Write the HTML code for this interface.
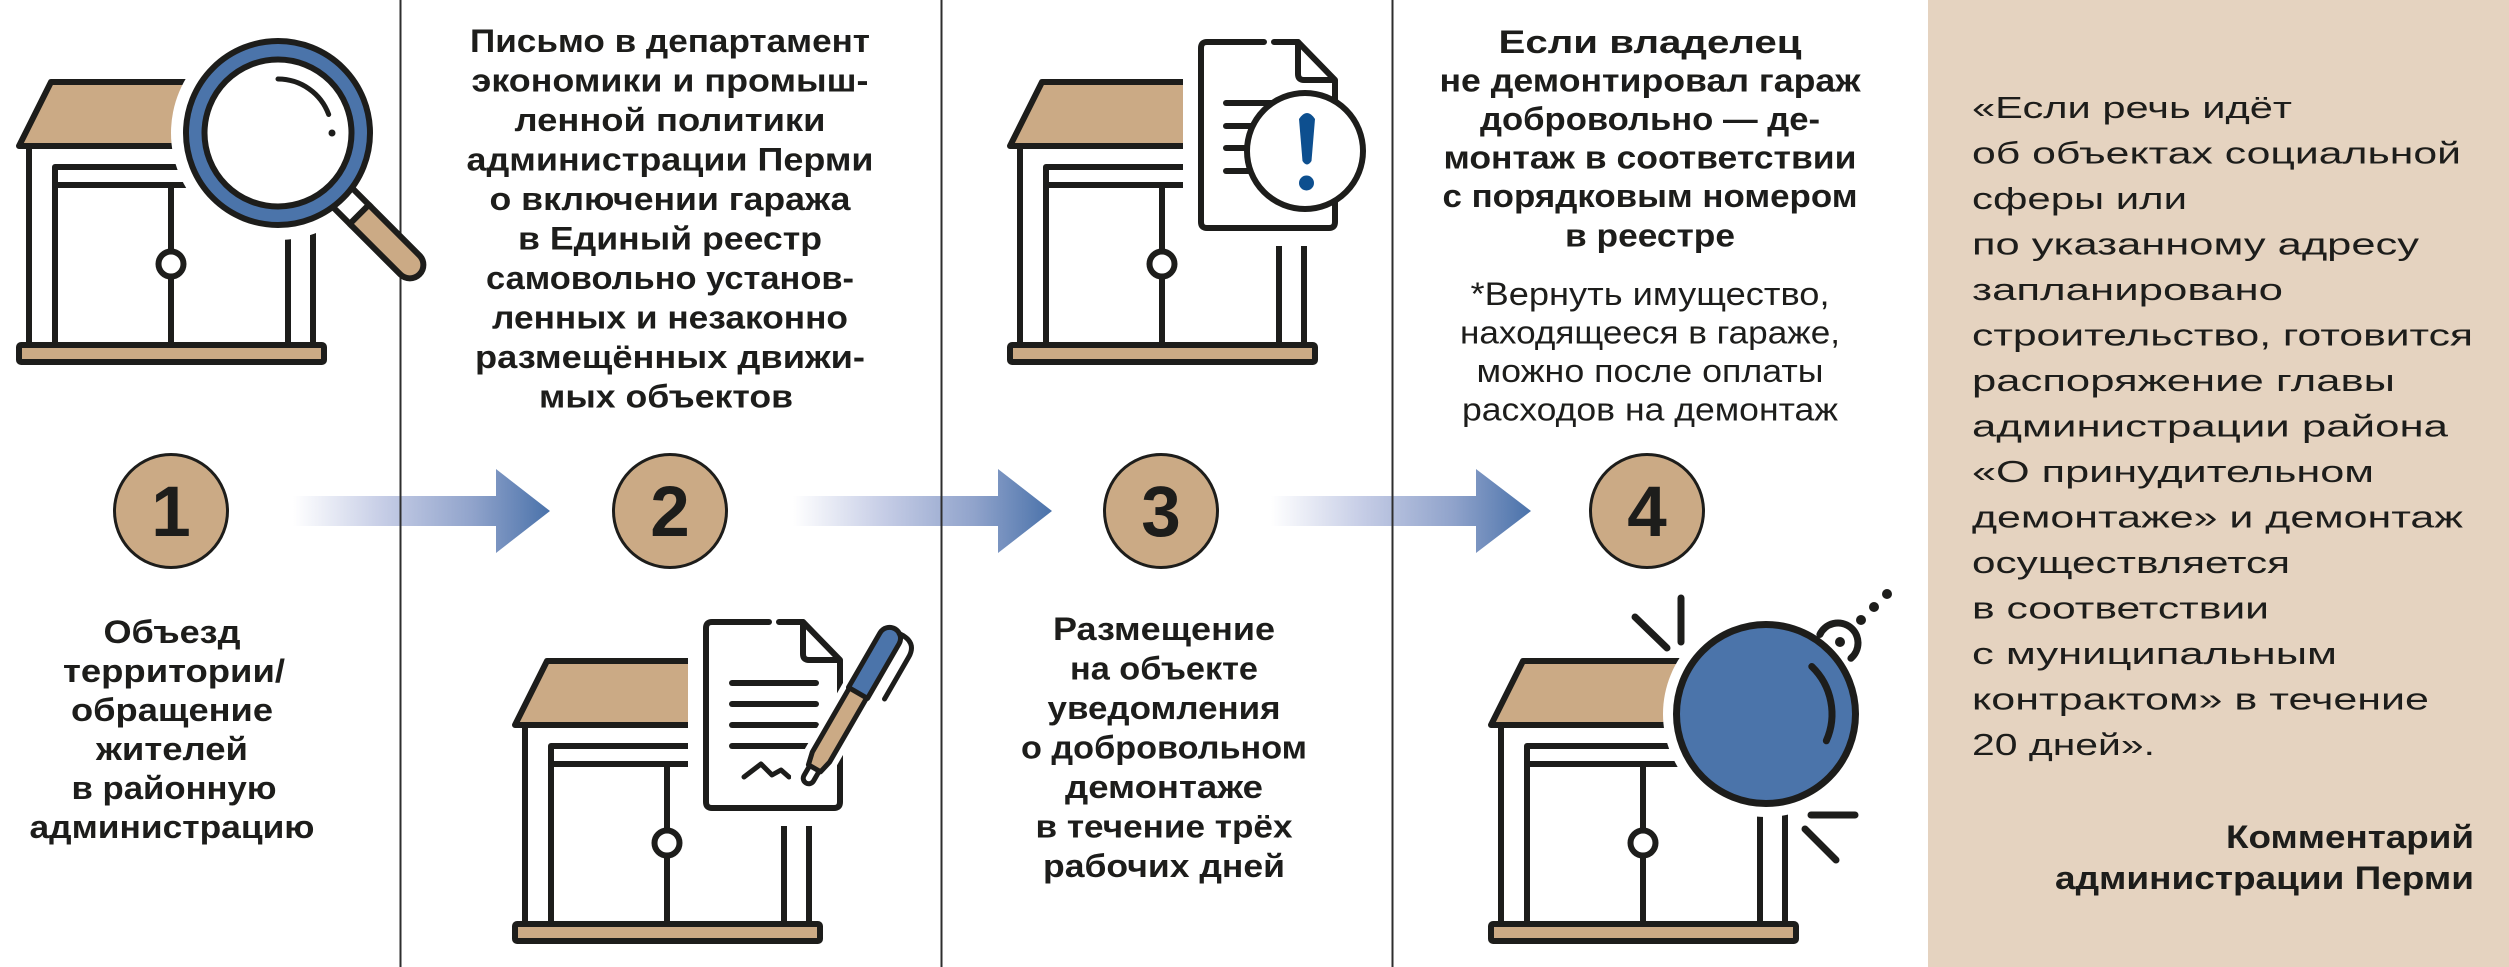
<!DOCTYPE html>
<html><head><meta charset="utf-8">
<style>
html,body{margin:0;padding:0;background:#fff;width:2509px;height:967px;overflow:hidden;}
svg{display:block;}
text{font-family:"Liberation Sans","DejaVu Sans",sans-serif;fill:#1d1d1b;}
.b{font-weight:700;font-size:32px;}
.l{font-weight:400;font-size:32px;}
.r{font-weight:400;font-size:31px;}
.n{font-weight:700;font-size:71px;}
</style></head><body>
<svg width="2509" height="967" viewBox="0 0 2509 967" xmlns="http://www.w3.org/2000/svg">
<defs>
<linearGradient id="ag" x1="0" x2="1" y1="0" y2="0">
 <stop offset="0" stop-color="#ffffff"/>
 <stop offset="0.35" stop-color="#c6cde6"/>
 <stop offset="0.7" stop-color="#90a3cb"/>
 <stop offset="1" stop-color="#4a72aa"/>
</linearGradient>
<g id="gar" stroke="#1d1d1b" stroke-width="6" stroke-linecap="round" stroke-linejoin="round">
 <polygon points="35,-260 300,-260 300,-196 3,-196" fill="#cbaa85"/>
 <line x1="13" y1="-196" x2="13" y2="0"/>
 <polyline points="39,0 39,-175 300,-175" fill="none"/>
 <line x1="39" y1="-157" x2="300" y2="-157"/>
 <line x1="155" y1="-157" x2="155" y2="-91"/>
 <line x1="155" y1="-65" x2="155" y2="0"/>
 <circle cx="155" cy="-78" r="12.5" fill="#fff"/>
 <line x1="272" y1="-196" x2="272" y2="0"/>
 <line x1="297" y1="-196" x2="297" y2="0"/>
 <rect x="3" y="3" width="305" height="17" rx="2" fill="#cbaa85"/>
</g>
<g id="doc" stroke="#1d1d1b" stroke-width="6" stroke-linecap="round" stroke-linejoin="round">
 <rect x="-15" y="-15" width="170" height="222" fill="#fff" stroke="none"/>
 <path d="M66,3 H9 Q3,3 3,9 V183 Q3,189 9,189 H131 Q137,189 137,183 V41 L100,3 H76" fill="#fff"/>
 <path d="M100,3 V35 Q100,41 106,41 H134" fill="none"/>
</g>
</defs>

<!-- right panel -->
<rect x="1928" y="0" width="581" height="967" fill="#e5d3c0"/>

<!-- arrows -->
<polygon points="293,496 496,496 496,469 550,511 496,553 496,526 293,526" fill="url(#ag)"/>
<polygon points="793,496 998,496 998,469 1052,511 998,553 998,526 793,526" fill="url(#ag)"/>
<polygon points="1271,496 1476,496 1476,469 1531,511 1476,553 1476,526 1271,526" fill="url(#ag)"/>

<!-- dividers -->
<g stroke="#2e2e2e" stroke-width="2">
 <line x1="400.5" y1="0" x2="400.5" y2="967"/>
 <line x1="941.5" y1="0" x2="941.5" y2="967"/>
 <line x1="1392.5" y1="0" x2="1392.5" y2="967"/>
</g>

<!-- number circles -->
<g fill="#cbaa85" stroke="#1d1d1b" stroke-width="3">
 <circle cx="171" cy="511" r="56.5"/>
 <circle cx="670" cy="511" r="56.5"/>
 <circle cx="1161" cy="511" r="56.5"/>
 <circle cx="1647" cy="511" r="56.5"/>
</g>
<text class="n" x="171" y="536" text-anchor="middle">1</text>
<text class="n" x="670" y="536" text-anchor="middle">2</text>
<text class="n" x="1161" y="536" text-anchor="middle">3</text>
<text class="n" x="1647" y="536" text-anchor="middle">4</text>

<!-- ===== Step 1 icon: garage + magnifier ===== -->
<use href="#gar" x="16" y="342"/>
<circle cx="278" cy="133" r="107" fill="#fff"/>
<g transform="translate(278,133) rotate(45)" stroke="#1d1d1b" stroke-width="6" stroke-linejoin="round">
 <rect x="80" y="-13.5" width="38" height="27" fill="#fff"/>
 <path d="M115,-13.5 H186.5 A13.5,13.5 0 0 1 186.5,13.5 H115 Z" fill="#cbaa85"/>
</g>
<circle cx="278" cy="133" r="92" fill="#4b74aa" stroke="#1d1d1b" stroke-width="6"/>
<circle cx="278" cy="133" r="73.5" fill="#fff" stroke="#1d1d1b" stroke-width="6"/>
<path d="M278,79 A54,54 0 0 1 328.7,114.5" fill="none" stroke="#1d1d1b" stroke-width="5" stroke-linecap="round"/>
<circle cx="332" cy="133" r="3.5" fill="#1d1d1b"/>

<!-- ===== Step 2 icon: garage + doc + pen ===== -->
<use href="#gar" x="512" y="921"/>
<use href="#doc" x="703" y="619"/>
<g stroke="#1d1d1b" stroke-width="6" stroke-linecap="round" fill="none">
 <line x1="732" y1="683" x2="816" y2="683"/>
 <line x1="732" y1="704" x2="816" y2="704"/>
 <line x1="732" y1="725" x2="816" y2="725"/>
 <line x1="732" y1="746" x2="816" y2="746"/>
 <polyline points="744,777 761,764 772,775 781,770 789,777" stroke-width="5" stroke-linejoin="round"/>
</g>
<g transform="translate(806,783) rotate(30)" stroke-linejoin="round" stroke-linecap="round">
 <line x1="0" y1="-6" x2="0" y2="-170" stroke="#fff" stroke-width="36"/>
 <line x1="26" y1="-162" x2="26" y2="-112" stroke="#fff" stroke-width="14"/>
 <g stroke="#1d1d1b" stroke-width="5">
  <rect x="-5.5" y="-22" width="11" height="22" rx="5.5" fill="#fff"/>
  <path d="M-7,-17 L-10,-30 V-106 H10 V-30 L7,-17 Z" fill="#cbaa85"/>
  <path d="M-11,-104 V-167 A11,11 0 0 1 11,-167 V-104 Z" fill="#4b74aa"/>
  <path d="M6,-176 Q26,-178 26,-160 L26,-112" fill="none"/>
 </g>
</g>

<!-- ===== Step 3 icon: garage + doc + exclamation ===== -->
<use href="#gar" x="1007" y="342"/>
<use href="#doc" x="1198" y="39"/>
<g stroke="#1d1d1b" stroke-width="6" stroke-linecap="round">
 <line x1="1226" y1="103" x2="1300" y2="103"/>
 <line x1="1226" y1="126" x2="1300" y2="126"/>
 <line x1="1226" y1="148" x2="1300" y2="148"/>
 <line x1="1226" y1="171" x2="1300" y2="171"/>
</g>
<circle cx="1305" cy="151" r="58" fill="#fff" stroke="#1d1d1b" stroke-width="6"/>
<path d="M1299,119 Q1307,107 1315,119 L1311.5,161 Q1307,168 1302.5,161 Z" fill="#0d4f8f"/>
<circle cx="1306.5" cy="183" r="7.5" fill="#0d4f8f"/>

<!-- ===== Step 4 icon: garage + wrecking ball ===== -->
<use href="#gar" x="1488" y="921"/>
<circle cx="1766" cy="714" r="103" fill="#fff"/>
<g stroke="#1d1d1b" stroke-width="7" stroke-linecap="round" fill="none">
 <path d="M1819.9,634.5 A20,20 0 1 1 1850.9,658.3"/>
</g>
<circle cx="1766" cy="714" r="89.5" fill="#4b74aa" stroke="#1d1d1b" stroke-width="7"/>
<g stroke="#1d1d1b" stroke-width="7" stroke-linecap="round" fill="none">
 <path d="M1811.8,666.5 A66,66 0 0 1 1826.3,740.8"/>
 <line x1="1681" y1="598" x2="1681" y2="642"/>
 <line x1="1635" y1="617" x2="1667" y2="648"/>
 <line x1="1811" y1="815" x2="1855" y2="815"/>
 <line x1="1805" y1="829" x2="1836" y2="860"/>
</g>
<g fill="#1d1d1b">
 <circle cx="1840" cy="642" r="5"/>
 <circle cx="1861" cy="620" r="5"/>
 <circle cx="1874" cy="607" r="5"/>
 <circle cx="1887" cy="594" r="5"/>
</g>

<!-- ===== Step 1 text ===== -->
<g class="b" text-anchor="middle">
 <text class="b" x="172" y="643" textLength="137" lengthAdjust="spacingAndGlyphs">Объезд</text>
 <text class="b" x="174" y="682" textLength="222" lengthAdjust="spacingAndGlyphs">территории/</text>
 <text class="b" x="172" y="721" textLength="202" lengthAdjust="spacingAndGlyphs">обращение</text>
 <text class="b" x="172" y="760" textLength="152" lengthAdjust="spacingAndGlyphs">жителей</text>
 <text class="b" x="174" y="799" textLength="205" lengthAdjust="spacingAndGlyphs">в районную</text>
 <text class="b" x="172" y="838" textLength="285" lengthAdjust="spacingAndGlyphs">администрацию</text>
</g>

<!-- ===== Step 2 text ===== -->
<g text-anchor="middle">
 <text class="b" x="670" y="52" textLength="400" lengthAdjust="spacingAndGlyphs">Письмо в департамент</text>
 <text class="b" x="670" y="91.5" textLength="397" lengthAdjust="spacingAndGlyphs">экономики и промыш-</text>
 <text class="b" x="670" y="131" textLength="311" lengthAdjust="spacingAndGlyphs">ленной политики</text>
 <text class="b" x="670" y="170.5" textLength="407" lengthAdjust="spacingAndGlyphs">администрации Перми</text>
 <text class="b" x="670" y="210" textLength="361" lengthAdjust="spacingAndGlyphs">о включении гаража</text>
 <text class="b" x="670" y="249.5" textLength="304" lengthAdjust="spacingAndGlyphs">в Единый реестр</text>
 <text class="b" x="670" y="289" textLength="368" lengthAdjust="spacingAndGlyphs">самовольно установ-</text>
 <text class="b" x="670" y="328.5" textLength="356" lengthAdjust="spacingAndGlyphs">ленных и незаконно</text>
 <text class="b" x="670" y="368" textLength="390" lengthAdjust="spacingAndGlyphs">размещённых движи-</text>
 <text class="b" x="666" y="407.5" textLength="254" lengthAdjust="spacingAndGlyphs">мых объектов</text>
</g>

<!-- ===== Step 3 text ===== -->
<g text-anchor="middle">
 <text class="b" x="1164" y="640" textLength="222" lengthAdjust="spacingAndGlyphs">Размещение</text>
 <text class="b" x="1164" y="679.5" textLength="188" lengthAdjust="spacingAndGlyphs">на объекте</text>
 <text class="b" x="1164" y="719" textLength="233" lengthAdjust="spacingAndGlyphs">уведомления</text>
 <text class="b" x="1164" y="758.5" textLength="286" lengthAdjust="spacingAndGlyphs">о добровольном</text>
 <text class="b" x="1164" y="798" textLength="198" lengthAdjust="spacingAndGlyphs">демонтаже</text>
 <text class="b" x="1164" y="837.5" textLength="257" lengthAdjust="spacingAndGlyphs">в течение трёх</text>
 <text class="b" x="1164" y="877" textLength="242" lengthAdjust="spacingAndGlyphs">рабочих дней</text>
</g>

<!-- ===== Step 4 text ===== -->
<g text-anchor="middle">
 <text class="b" x="1650" y="53" textLength="303" lengthAdjust="spacingAndGlyphs">Если владелец</text>
 <text class="b" x="1650" y="91.5" textLength="421" lengthAdjust="spacingAndGlyphs">не демонтировал гараж</text>
 <text class="b" x="1650" y="130" textLength="340" lengthAdjust="spacingAndGlyphs">добровольно — де-</text>
 <text class="b" x="1650" y="168.5" textLength="413" lengthAdjust="spacingAndGlyphs">монтаж в соответствии</text>
 <text class="b" x="1650" y="207" textLength="415" lengthAdjust="spacingAndGlyphs">с порядковым номером</text>
 <text class="b" x="1650" y="246.5" textLength="170" lengthAdjust="spacingAndGlyphs">в реестре</text>
 <text class="l" x="1650" y="305" textLength="359" lengthAdjust="spacingAndGlyphs">*Вернуть имущество,</text>
 <text class="l" x="1650" y="343.5" textLength="380" lengthAdjust="spacingAndGlyphs">находящееся в гараже,</text>
 <text class="l" x="1650" y="382" textLength="347" lengthAdjust="spacingAndGlyphs">можно после оплаты</text>
 <text class="l" x="1650" y="420.5" textLength="376" lengthAdjust="spacingAndGlyphs">расходов на демонтаж</text>
</g>

<!-- ===== Right panel quote ===== -->
<g>
 <text class="r" x="1972" y="118" textLength="320" lengthAdjust="spacingAndGlyphs">«Если речь идёт</text>
 <text class="r" x="1972" y="163.5" textLength="489" lengthAdjust="spacingAndGlyphs">об объектах социальной</text>
 <text class="r" x="1972" y="209" textLength="215" lengthAdjust="spacingAndGlyphs">сферы или</text>
 <text class="r" x="1972" y="254.5" textLength="447" lengthAdjust="spacingAndGlyphs">по указанному адресу</text>
 <text class="r" x="1972" y="300" textLength="311" lengthAdjust="spacingAndGlyphs">запланировано</text>
 <text class="r" x="1972" y="345.5" textLength="501" lengthAdjust="spacingAndGlyphs">строительство, готовится</text>
 <text class="r" x="1972" y="391" textLength="423" lengthAdjust="spacingAndGlyphs">распоряжение главы</text>
 <text class="r" x="1972" y="436.5" textLength="476" lengthAdjust="spacingAndGlyphs">администрации района</text>
 <text class="r" x="1972" y="482" textLength="402" lengthAdjust="spacingAndGlyphs">«О принудительном</text>
 <text class="r" x="1972" y="527.5" textLength="491" lengthAdjust="spacingAndGlyphs">демонтаже» и демонтаж</text>
 <text class="r" x="1972" y="573" textLength="318" lengthAdjust="spacingAndGlyphs">осуществляется</text>
 <text class="r" x="1972" y="618.5" textLength="297" lengthAdjust="spacingAndGlyphs">в соответствии</text>
 <text class="r" x="1972" y="664" textLength="365" lengthAdjust="spacingAndGlyphs">с муниципальным</text>
 <text class="r" x="1972" y="709.5" textLength="457" lengthAdjust="spacingAndGlyphs">контрактом» в течение</text>
 <text class="r" x="1972" y="755" textLength="183" lengthAdjust="spacingAndGlyphs">20 дней».</text>
 <text class="b" x="2474" y="848" text-anchor="end" textLength="248" lengthAdjust="spacingAndGlyphs">Комментарий</text>
 <text class="b" x="2474" y="889" text-anchor="end" textLength="419" lengthAdjust="spacingAndGlyphs">администрации Перми</text>
</g>
</svg>
</body></html>
